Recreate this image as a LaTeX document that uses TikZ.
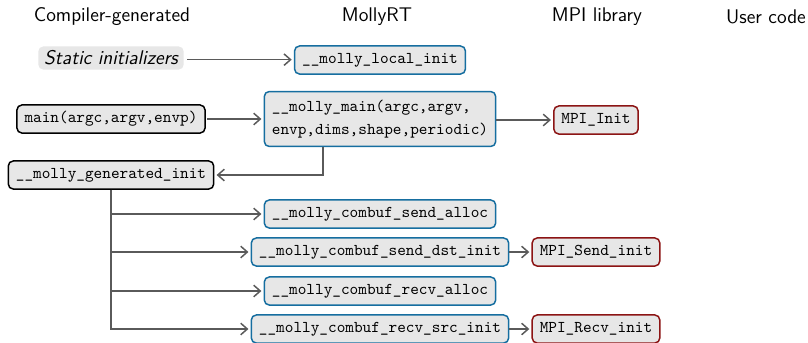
\documentclass[tikz,border=0pt]{standalone}
\usetikzlibrary{arrows.meta}
\definecolor{boxfill}{RGB}{231,231,231}
\definecolor{rtblue}{RGB}{22,110,160}
\definecolor{mpired}{RGB}{140,20,20}
\definecolor{linkgray}{RGB}{90,90,90}
\tikzset{
  fn/.style={draw, rounded corners=3pt, fill=boxfill, line width=0.9pt,
    font=\ttfamily, inner xsep=4.6pt, inner ysep=4.2pt,
    text height=1.55ex, text depth=0.45ex},
  compiler/.style={fn, draw=black},
  runtime/.style={fn, draw=rtblue},
  mpilib/.style={fn, draw=mpired},
  heading/.style={font=\sffamily\large},
  link/.style={draw=linkgray, line width=0.9pt, shorten >=1.3pt,
    -{Straight Barb[length=4pt,width=7pt]}},
}
\begin{document}
\begin{tikzpicture}[x=0.607pt, y=-0.607pt]
\useasboundingbox (0,0) rectangle (808,342);
% column headings
\node[heading] (hcg) at (112,17) {Compiler-generated};
\node[heading] (hrt) at (377,17) {MollyRT};
\node[heading] (hmpi) at (597,17) {MPI library};
\node[heading] (husr) at (766,17) {User code};
% compiler-generated entry points
\node[fill=boxfill, rounded corners=3pt, font=\sffamily\itshape\large, inner xsep=3.6pt, inner ysep=2.6pt] (static) at (111,58) {Static initializers};
\node[compiler] (main) at (111,119) {main(argc,argv,envp)};
\node[compiler] (geninit) at (111,175) {\_\_molly\_generated\_init};
% runtime functions
\node[runtime] (localinit) at (380,60) {\_\_molly\_local\_init};
\node[runtime, align=left, text height=, text depth=, inner ysep=5pt] (mmain) at (380,119)
  {\_\_molly\_main(argc,argv,\\[2.2pt]envp,dims,shape,periodic)};
\node[runtime] (sendalloc) at (380,214) {\_\_molly\_combuf\_send\_alloc};
\node[runtime] (senddst) at (380,252) {\_\_molly\_combuf\_send\_dst\_init};
\node[runtime] (recvalloc) at (380,291) {\_\_molly\_combuf\_recv\_alloc};
\node[runtime] (recvsrc) at (380,329) {\_\_molly\_combuf\_recv\_src\_init};
% MPI library calls
\node[mpilib] (mpiinit) at (596,120) {MPI\_Init};
\node[mpilib] (mpisend) at (596,252) {MPI\_Send\_init};
\node[mpilib] (mpirecv) at (596,329) {MPI\_Recv\_init};
% call edges
\coordinate (staticout) at ([yshift=-1pt]static.east);
\draw[link, shorten <=2pt] (staticout) -- (staticout -| localinit.west);
\draw[link, shorten <=1pt] (main) -- (main -| mmain.west);
\draw[link] (mmain.east |- mpiinit) -- (mpiinit);
\coordinate (drop) at (323,0);
\draw[link] (drop |- mmain.south) |- (geninit);
\foreach \t in {sendalloc,senddst,recvalloc,recvsrc}
  \draw[link] (geninit.south) |- (\t.west);
\draw[link] (senddst) -- (mpisend);
\draw[link] (recvsrc) -- (mpirecv);
\end{tikzpicture}
\end{document}
